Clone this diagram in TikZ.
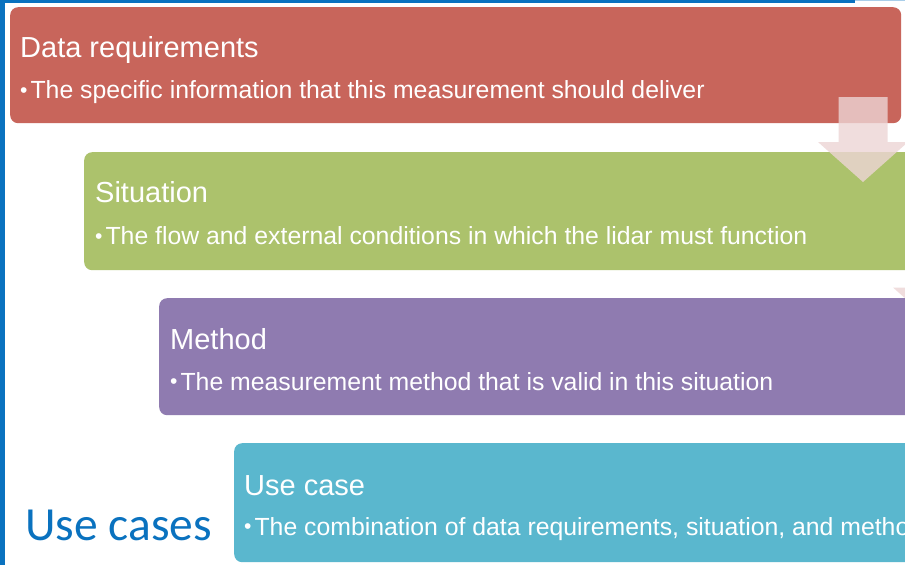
\documentclass[tikz,border=0pt]{standalone}
\usepackage{fontspec}
\setmainfont{Liberation Sans}
\newfontfamily\labelfont{Carlito}
\definecolor{reqred}{HTML}{C8655B}
\definecolor{sitgreen}{HTML}{ACC26C}
\definecolor{methpurple}{HTML}{8F7BB0}
\definecolor{usecyan}{HTML}{5AB7CE}
\definecolor{frameblue}{HTML}{0A72BF}
\definecolor{arrowpink}{HTML}{EDD5D5}
\newcommand{\stagebullet}{\raisebox{1.2pt}{\scalebox{0.85}{\textbullet}}\hspace{3pt}}
\begin{document}
\begin{tikzpicture}[x=1pt,y=-1pt,
  stagebox/.style={rounded corners=8pt, anchor=north west, inner sep=0pt, draw=none},
  stagetitle/.style={anchor=base west, inner sep=0pt, text=white, font=\fontsize{29}{34}\selectfont},
  stagetext/.style={anchor=base west, inner sep=0pt, text=white, font=\fontsize{24.8}{30}\selectfont},
  flowarrow/.pic={\fill[arrowpink, fill opacity=0.8]
      (-24.5,0) -- (24.5,0) -- (24.5,45) -- (45,45) -- (0,85)
      -- (-45,45) -- (-24.5,45) -- cycle;}]
\useasboundingbox (0,0) rectangle (905,565);
\clip (0,0) rectangle (905,565);

% slide frame
\fill[white] (0,0) rectangle (905,565);
\fill[frameblue] (0,0) rectangle (5,565);
\fill[frameblue] (0,0) rectangle (855,2.5);
\fill[frameblue!35] (855,0) rectangle (905,1.2);

% staircase of stages
\node[stagebox, fill=reqred, minimum width=891pt, minimum height=116pt] (req) at (10,7) {};
\node[stagebox, fill=sitgreen, minimum width=900pt, minimum height=118pt] (sit) at (84,152) {};
\node[stagebox, fill=methpurple, minimum width=820pt, minimum height=117pt] (meth) at (159,298) {};
\node[stagebox, fill=usecyan, minimum width=760pt, minimum height=119pt] (use) at (234,443) {};

% downward flow arrows between stages
\pic at (863,97) {flowarrow};
\pic at (938,242.5) {flowarrow};

% stage texts
\node[stagetitle] (reqT) at (20,57) {Data requirements};
\node[stagetext] (reqD) at (20,98.5) {\stagebullet The specific information that this measurement should deliver};
\node[stagetitle] (sitT) at (95,202.5) {Situation};
\node[stagetext] (sitD) at (95,244.5) {\stagebullet The flow and external conditions in which the lidar must function};
\node[stagetitle] (methT) at (170,349) {Method};
\node[stagetext] (methD) at (170,390) {\stagebullet The measurement method that is valid in this situation};
\node[stagetitle] (useT) at (244,495) {Use case};
\node[stagetext] (useD) at (244,535) {\stagebullet The combination of data requirements, situation, and method};

% slide label
\node[anchor=base west, inner sep=0pt, text=frameblue, font=\labelfont\fontsize{47.5}{52}\selectfont] (label) at (25,540) {Use cases};
\end{tikzpicture}
\end{document}
